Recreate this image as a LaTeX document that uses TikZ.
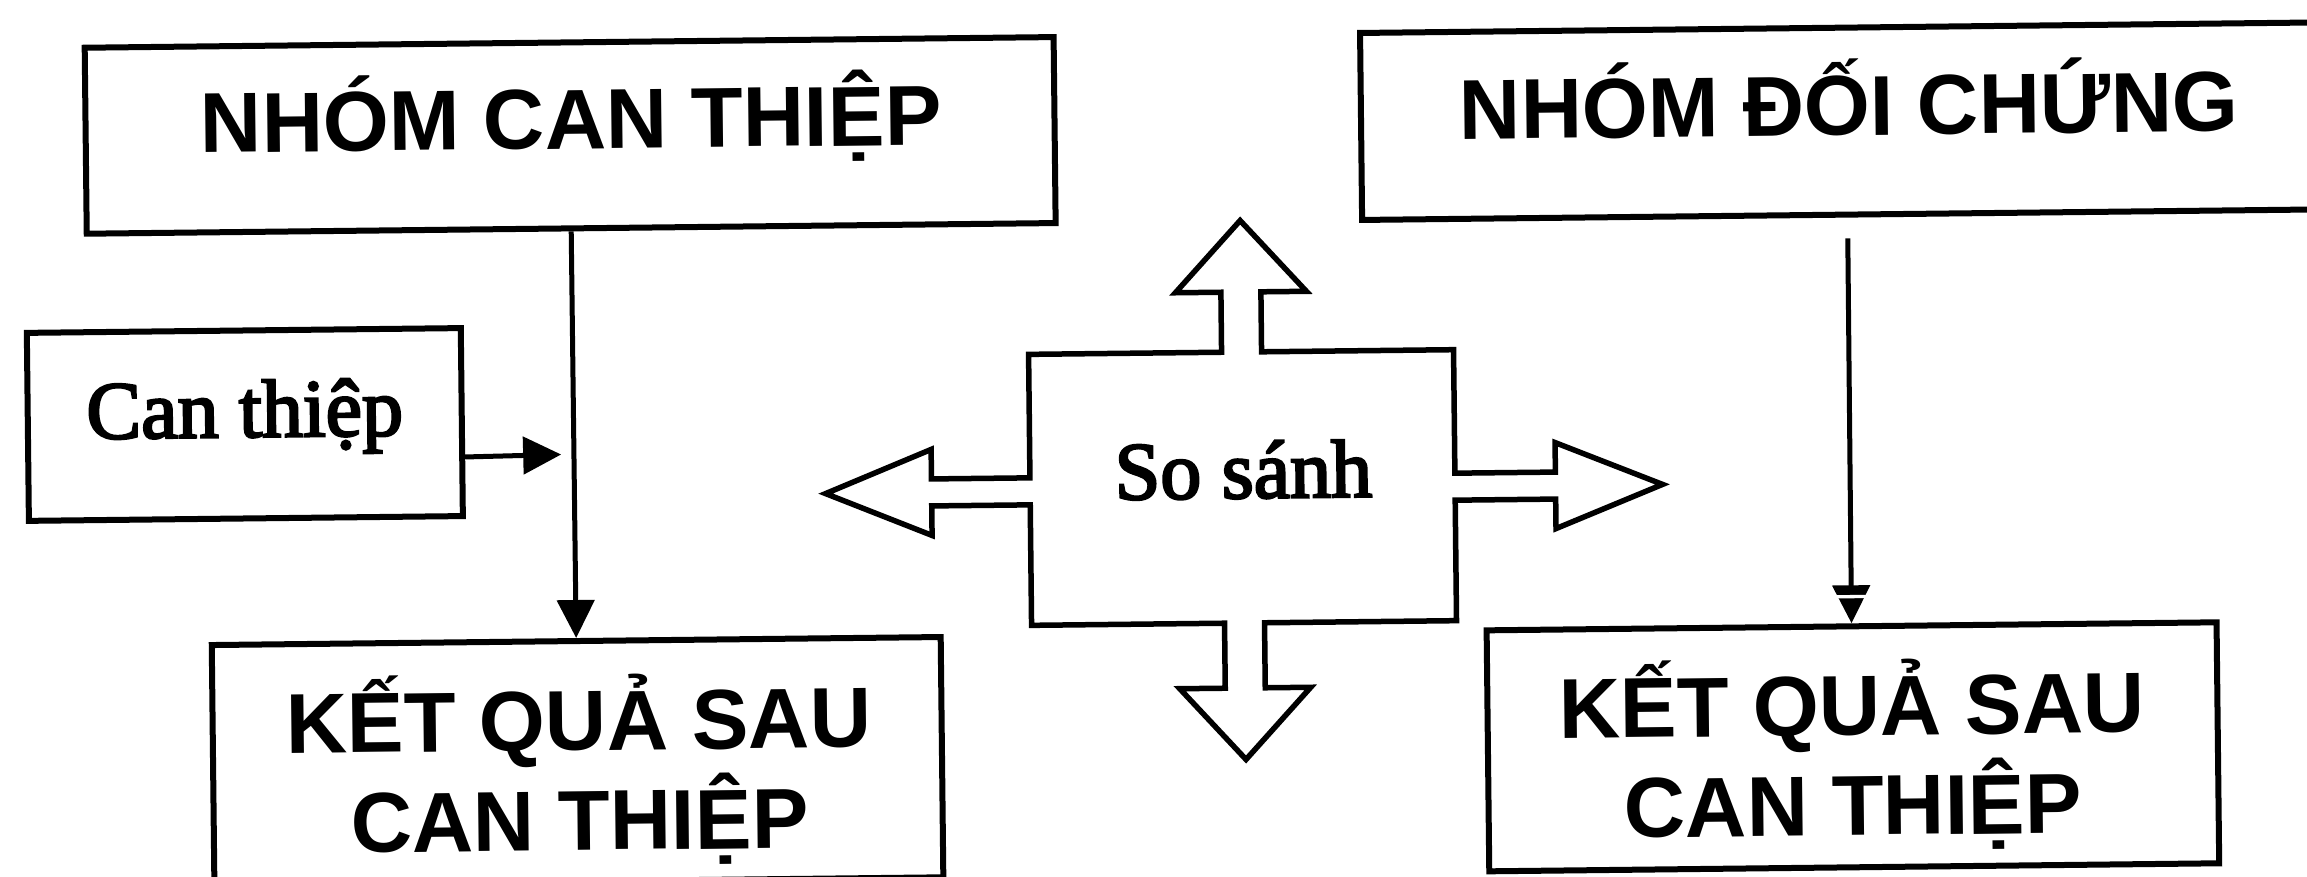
\documentclass[tikz,border=0pt]{standalone}
\usepackage{fontspec}
\setmainfont{Liberation Serif}
\newfontfamily\plainfont{Liberation Serif}[FakeBold=3]
\newfontfamily\capsfont{Liberation Sans Bold}
\usetikzlibrary{arrows.meta,calc}
\begin{document}
\begin{tikzpicture}[x=1pt,y=-1pt,
  boxframe/.style={draw, line width=6pt, inner sep=0pt},
  capstext/.style={font={\capsfont\fontsize{85}{100}\selectfont}, inner sep=0pt, align=center, anchor=base},
  plaintext/.style={font={\plainfont\fontsize{82}{96}\selectfont}, inner sep=0pt, anchor=base},
  link/.style={line width=5pt, -{Triangle[length=38pt,width=37pt]}},
  compare/.style={line width=5.5pt, line join=miter}]
\fill[white] (0,0) rectangle (2307,877);
\useasboundingbox (0,0) rectangle (2307,877);
\clip (0,0) rectangle (2307,877);
\begin{scope}[rotate around={0.63:(1153,438)}, transform shape]
  % the four boxes and the small input box
  \node[boxframe, minimum width=969pt, minimum height=186pt] (grpI) at (573.5,129) {};
  \node[boxframe, minimum width=976.5pt, minimum height=187pt] (grpC) at (1852.75,128.75) {};
  \node[boxframe, minimum width=434pt, minimum height=188pt] (act) at (245,414.5) {};
  \node[boxframe, minimum width=729pt, minimum height=240.3pt] (resI) at (574,754.85) {};
  \node[boxframe, minimum width=730pt, minimum height=241pt] (resC) at (1849.5,754.5) {};

  % box texts (a two-line node sits on the baseline of its last line)
  \node[capstext] (tI) at (574.5,142.5) {NHÓM CAN THIỆP};
  \node[capstext] (tC) at (1852.6,143) {NHÓM ĐỐI CHỨNG};
  \node[plaintext] (tAct) at (245,427) {Can thiệp};
  \node[capstext] (tResI) at (575.5,844) {KẾT QUẢ SAU\\CAN THIỆP};
  \node[capstext] (tResC) at (1849,843) {KẾT QUẢ SAU\\CAN THIỆP};

  % connectors
  \draw[link] (grpI.south) -- (resI.north);
  \coordinate (ctrlIn) at (1850,246);
  \draw[link] (ctrlIn) -- (resC.north);
  \draw[white, line width=3.3pt] (1828,604.3) -- (1872,604.3);
  \coordinate (actTip) at (561,448);
  \draw[link] ($(act.south east)!0.32!(act.north east)$) -- (actTip);

  % comparison block: a square with four outward arrows
  \draw[compare]
    (1029.5,353) -- (1222.5,353) -- (1222.5,293) -- (1177,293) -- (1242.5,221.5)
    -- (1308,293) -- (1262.5,293) -- (1262.5,353) -- (1454.5,353)
    -- (1454.5,476.5) -- (1555,476.5) -- (1555,447) -- (1662,490) -- (1555,533)
    -- (1555,503.5) -- (1454.5,503.5) -- (1454.5,624)
    -- (1262.5,624) -- (1262.5,689) -- (1308,689) -- (1242.5,760.5) -- (1177,689)
    -- (1222.5,689) -- (1222.5,624) -- (1029.5,624)
    -- (1029.5,503.5) -- (931,503.5) -- (931,533) -- (825,490) -- (931,447)
    -- (931,476.5) -- (1029.5,476.5) -- cycle;
  \node[plaintext] (tCmp) at (1243,499) {So sánh};
\end{scope}
\end{tikzpicture}
\end{document}
